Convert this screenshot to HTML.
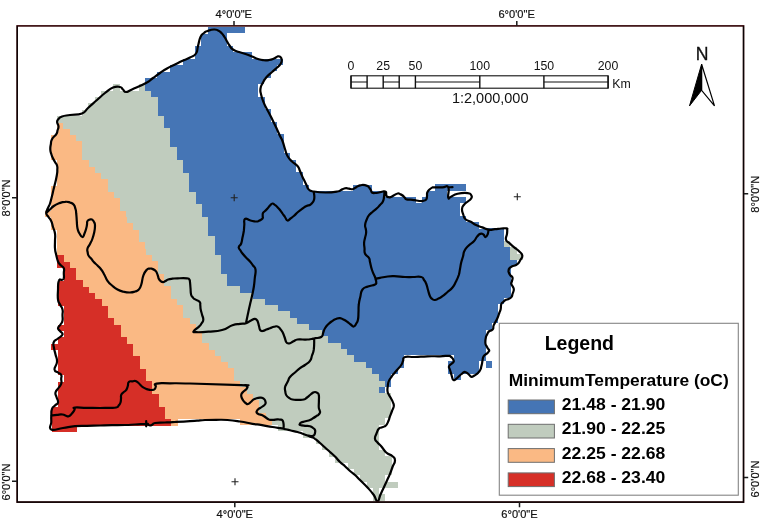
<!DOCTYPE html>
<html lang="en">
<head>
<meta charset="utf-8">
<title>Minimum Temperature Map</title>
<style>
html,body{margin:0;padding:0;background:#fff;}
body{width:761px;height:526px;overflow:hidden;}
svg{display:block;}
text{font-family:"Liberation Sans",Arial,Helvetica,sans-serif;fill:#111;}
.gl{font-size:11.1px;stroke:#111;stroke-width:0.2px;}
.sb{font-size:12.3px;}
.lg{font-weight:bold;font-size:16px;fill:#000;}
</style>
</head>
<body>
<svg width="761" height="526" viewBox="0 0 761 526">
<rect x="0" y="0" width="761" height="526" fill="#fff"/>
<g shape-rendering="crispEdges">
<path fill="#4575b5" d="M208 27H245V33H208ZM208 33H227V34H208ZM201 34H227V46H201ZM195 46H233V52H195ZM195 52H252V59H195ZM183 59H283V65H183ZM170 65H277V71H170ZM170 71H271V72H170ZM157 72H271V78H157ZM145 78H264V84H145ZM145 84H258V91H145ZM151 91H258V97H151ZM158 97H265V103H158ZM158 103H265V109H158ZM158 109H271V110H158ZM158 110H271V116H158ZM164 116H271V122H164ZM164 122H277V123H164ZM164 123H277V128H164ZM170 128H277V129H170ZM170 129H277V134H170ZM170 134H284V135H170ZM170 135H284V141H170ZM170 141H284V147H170ZM177 147H284V153H177ZM177 153H290V160H177ZM183 160H296V167H183ZM183 167H296V172H183ZM183 172H303V173H183ZM189 173H303V179H189ZM189 179H303V184H189ZM189 184H303V185H189ZM435 184H466V185H435ZM189 185H309V186H189ZM353 185H372V186H353ZM435 185H466V186H435ZM189 186H309V191H189ZM353 186H372V191H353ZM435 186H466V191H435ZM189 191H384V192H189ZM428 191H447V192H428ZM196 192H384V197H196ZM428 192H447V197H428ZM196 197H416V198H196ZM422 197H466V198H422ZM196 198H416V203H196ZM422 198H466V203H422ZM196 203H460V204H196ZM202 204H460V211H202ZM202 211H460V216H202ZM202 216H466V217H202ZM208 217H466V222H208ZM208 222H479V223H208ZM208 223H479V228H208ZM208 228H479V229H208ZM485 228H504V229H485ZM208 229H504V230H208ZM208 230H504V236H208ZM215 236H504V241H215ZM215 241H504V242H215ZM215 242H504V247H215ZM215 247H510V249H215ZM215 249H510V254H215ZM215 254H510V255H215ZM221 255H510V260H221ZM221 260H517V261H221ZM221 261H517V262H221ZM221 262H517V266H221ZM221 266H511V268H221ZM221 268H511V274H221ZM227 274H511V280H227ZM227 280H511V281H227ZM227 281H511V286H227ZM240 286H511V287H240ZM240 287H511V293H240ZM253 293H511V298H253ZM253 298H504V299H253ZM265 299H504V304H265ZM265 304H498V305H265ZM278 305H498V306H278ZM278 306H498V311H278ZM290 311H498V318H290ZM297 318H498V323H297ZM297 323H492V324H297ZM309 324H492V325H309ZM309 325H492V330H309ZM322 330H486V331H322ZM322 331H486V336H322ZM328 336H486V337H328ZM328 337H486V343H328ZM341 343H486V344H341ZM341 344H486V349H341ZM347 349H486V350H347ZM347 350H486V355H347ZM354 355H404V356H354ZM454 355H486V356H454ZM354 356H404V361H354ZM454 356H486V361H454ZM354 361H404V362H354ZM448 361H479V362H448ZM486 361H492V362H486ZM366 362H404V368H366ZM448 362H479V368H448ZM486 362H492V368H486ZM372 368H398V369H372ZM448 368H479V369H448ZM372 369H398V374H372ZM448 369H479V374H448ZM379 374H391V375H379ZM454 374H461V375H454ZM379 375H391V380H379ZM454 375H461V380H454ZM379 380H391V381H379ZM385 381H391V382H385ZM385 382H391V387H385ZM379 387H385V393H379Z"/>
<path fill="#c0ccbe" d="M113 84H120V91H113ZM139 84H145V91H139ZM101 91H151V97H101ZM95 97H158V103H95ZM88 103H158V109H88ZM88 109H158V110H88ZM82 110H158V116H82ZM57 116H164V122H57ZM57 122H164V123H57ZM63 123H164V128H63ZM63 128H170V129H63ZM70 129H170V134H70ZM70 134H170V135H70ZM76 135H170V141H76ZM82 141H170V147H82ZM82 147H177V153H82ZM82 153H177V160H82ZM89 160H183V167H89ZM95 167H183V172H95ZM95 172H183V173H95ZM101 173H189V179H101ZM108 179H189V184H108ZM108 184H189V185H108ZM108 185H189V186H108ZM108 186H189V191H108ZM108 191H189V192H108ZM114 192H196V197H114ZM114 197H196V198H114ZM120 198H196V203H120ZM120 203H196V204H120ZM120 204H202V211H120ZM126 211H202V216H126ZM126 216H202V217H126ZM127 217H208V222H127ZM127 222H208V223H127ZM133 223H208V228H133ZM133 228H208V229H133ZM133 229H208V230H133ZM139 230H208V236H139ZM139 236H215V241H139ZM139 241H215V242H139ZM504 241H510V242H504ZM145 242H215V247H145ZM504 242H510V247H504ZM145 247H215V249H145ZM510 247H517V249H510ZM146 249H215V254H146ZM510 249H517V254H510ZM146 254H215V255H146ZM510 254H523V255H510ZM152 255H221V260H152ZM510 255H523V260H510ZM152 260H221V261H152ZM158 261H221V262H158ZM158 262H221V266H158ZM158 266H221V268H158ZM158 268H221V274H158ZM164 274H227V280H164ZM164 280H227V281H164ZM164 281H227V286H164ZM171 286H240V287H171ZM171 287H240V293H171ZM171 293H253V298H171ZM171 298H253V299H171ZM177 299H265V304H177ZM177 304H265V305H177ZM183 305H278V306H183ZM183 306H278V311H183ZM183 311H290V318H183ZM190 318H297V323H190ZM190 323H297V324H190ZM196 324H309V325H196ZM196 325H309V330H196ZM196 330H322V331H196ZM202 331H322V336H202ZM202 336H328V337H202ZM202 337H328V343H202ZM209 343H341V344H209ZM209 344H341V349H209ZM209 349H347V350H209ZM215 350H347V355H215ZM215 355H354V356H215ZM221 356H354V361H221ZM221 361H354V362H221ZM228 362H366V368H228ZM234 368H372V369H234ZM234 369H372V374H234ZM234 374H379V375H234ZM234 375H379V380H234ZM234 380H379V381H234ZM240 381H385V382H240ZM240 382H385V387H240ZM247 387H379V393H247ZM247 393H391V394H247ZM253 394H391V400H253ZM259 400H391V407H259ZM259 407H391V413H259ZM266 413H391V418H266ZM266 418H385V419H266ZM272 419H385V425H272ZM278 425H379V426H278ZM278 426H379V431H278ZM303 431H379V432H303ZM303 432H379V438H303ZM316 438H379V444H316ZM322 444H379V450H322ZM329 450H385V456H329ZM329 456H392V457H329ZM335 457H392V463H335ZM348 463H392V469H348ZM354 469H392V475H354ZM360 475H385V482H360ZM367 482H398V488H367ZM373 488H379V494H373ZM373 494H385V501H373Z"/>
<path fill="#fab984" d="M57 123H63V128H57ZM57 128H63V129H57ZM57 129H70V134H57ZM57 134H70V135H57ZM51 135H76V141H51ZM51 141H82V147H51ZM51 147H82V153H51ZM51 153H82V160H51ZM57 160H89V167H57ZM57 167H95V172H57ZM57 172H95V173H57ZM57 173H101V179H57ZM57 179H108V184H57ZM57 184H108V185H57ZM57 185H108V186H57ZM51 186H108V191H51ZM51 191H108V192H51ZM51 192H114V197H51ZM51 197H114V198H51ZM51 198H120V203H51ZM51 203H120V204H51ZM51 204H120V211H51ZM45 211H126V216H45ZM45 216H126V217H45ZM51 217H127V222H51ZM51 222H127V223H51ZM51 223H133V228H51ZM51 228H133V229H51ZM51 229H133V230H51ZM57 230H139V236H57ZM57 236H139V241H57ZM57 241H139V242H57ZM57 242H145V247H57ZM57 247H145V249H57ZM57 249H146V254H57ZM57 254H146V255H57ZM64 255H152V260H64ZM64 260H152V261H64ZM64 261H158V262H64ZM70 262H158V266H70ZM70 266H158V268H70ZM76 268H158V274H76ZM76 274H164V280H76ZM83 280H164V281H83ZM83 281H164V286H83ZM83 286H171V287H83ZM89 287H171V293H89ZM95 293H171V298H95ZM95 298H171V299H95ZM102 299H177V304H102ZM102 304H177V305H102ZM102 305H183V306H102ZM108 306H183V311H108ZM108 311H183V318H108ZM114 318H190V323H114ZM114 323H190V324H114ZM114 324H196V325H114ZM121 325H196V330H121ZM121 330H196V331H121ZM121 331H202V336H121ZM121 336H202V337H121ZM127 337H202V343H127ZM127 343H209V344H127ZM133 344H209V349H133ZM133 349H209V350H133ZM133 350H215V355H133ZM133 355H215V356H133ZM140 356H221V361H140ZM140 361H221V362H140ZM140 362H228V368H140ZM140 368H234V369H140ZM146 369H234V374H146ZM146 374H234V375H146ZM146 375H234V380H146ZM146 380H234V381H146ZM152 381H240V382H152ZM152 382H240V387H152ZM152 387H247V393H152ZM152 393H247V394H152ZM159 394H253V400H159ZM159 400H259V407H159ZM165 407H259V413H165ZM165 413H266V418H165ZM165 418H266V419H165ZM171 419H178V425H171ZM240 419H272V425H240ZM171 425H178V426H171Z"/>
<path fill="#d62f27" d="M57 255H64V260H57ZM57 260H64V261H57ZM57 261H64V262H57ZM57 262H70V266H57ZM57 266H70V268H57ZM64 268H76V274H64ZM64 274H76V280H64ZM64 280H83V281H64ZM58 281H83V286H58ZM58 286H83V287H58ZM58 287H89V293H58ZM58 293H95V298H58ZM58 298H95V299H58ZM58 299H102V304H58ZM58 304H102V305H58ZM58 305H102V306H58ZM64 306H108V311H64ZM64 311H108V318H64ZM64 318H114V323H64ZM64 323H114V324H64ZM64 324H114V325H64ZM58 325H121V330H58ZM58 330H121V331H58ZM64 331H121V336H64ZM64 336H121V337H64ZM58 337H127V343H58ZM58 343H127V344H58ZM51 344H133V349H51ZM51 349H133V350H51ZM58 350H133V355H58ZM58 355H133V356H58ZM58 356H140V361H58ZM58 361H140V362H58ZM58 362H140V368H58ZM58 368H140V369H58ZM58 369H146V374H58ZM58 374H146V375H58ZM64 375H146V380H64ZM64 380H146V381H64ZM64 381H152V382H64ZM58 382H152V387H58ZM58 387H152V393H58ZM58 393H152V394H58ZM58 394H159V400H58ZM58 400H159V407H58ZM52 407H165V413H52ZM52 413H165V418H52ZM52 418H165V419H52ZM52 419H171V425H52ZM52 425H171V426H52ZM52 426H77V431H52ZM52 431H77V432H52Z"/>
</g>
<path d="M57.1 122.1C57.1 120.1 57.2 120.5 58.5 119.0C59.8 117.5 58.9 117.6 62.0 116.5C65.1 115.4 64.7 115.8 70.0 115.0C75.3 114.2 77.2 115.4 82.0 113.5C86.8 111.6 84.0 111.6 88.0 108.0C92.0 104.4 92.5 104.0 97.0 100.0C101.5 96.0 100.7 96.3 105.0 93.0C109.3 89.7 109.0 89.1 113.0 87.5C117.0 85.9 117.3 86.5 120.0 87.0C122.7 87.5 121.4 88.2 123.0 89.5C124.6 90.8 123.6 92.0 126.0 92.0C128.4 92.0 126.7 91.9 132.0 89.5C137.3 87.1 140.4 86.1 146.0 83.0C151.6 79.9 149.3 80.7 153.0 78.0C156.7 75.3 156.3 75.5 160.0 73.0C163.7 70.5 163.0 70.8 167.0 68.5C171.0 66.2 171.0 66.5 175.0 64.5C179.0 62.5 178.0 62.9 182.0 61.0C186.0 59.1 186.3 59.5 190.0 57.5C193.7 55.5 193.9 56.6 196.0 53.5C198.1 50.4 196.8 50.4 198.0 46.0C199.2 41.6 198.9 40.5 200.5 37.0C202.1 33.5 202.1 34.6 204.0 33.0C205.9 31.4 204.8 31.9 207.5 31.0C210.2 30.1 211.2 29.6 214.0 29.5C216.8 29.4 216.0 29.6 218.0 30.5C220.0 31.4 219.8 31.3 221.5 33.0C223.2 34.7 223.2 35.0 224.5 37.0C225.8 39.0 225.2 38.2 226.5 40.5C227.8 42.8 227.8 43.1 229.5 45.5C231.2 47.9 230.5 47.8 233.0 49.5C235.5 51.2 235.7 50.8 239.0 52.0C242.3 53.2 242.0 52.8 245.5 54.0C249.0 55.2 248.7 55.2 252.0 56.5C255.3 57.8 254.9 58.0 258.0 59.0C261.1 60.0 260.6 59.9 263.5 60.2C266.4 60.5 266.2 60.5 269.0 60.0C271.8 59.5 271.7 59.4 274.0 58.5C276.3 57.6 275.8 57.0 277.5 56.5C279.2 56.0 279.2 55.9 280.3 56.8C281.4 57.7 281.7 58.1 281.8 60.0C281.9 61.9 281.7 62.0 280.5 64.0C279.3 66.0 279.5 65.4 277.2 67.5C274.9 69.6 274.8 69.5 272.0 72.0C269.2 74.5 269.0 74.2 266.6 77.0C264.2 79.8 264.6 79.4 263.0 82.5C261.4 85.6 261.0 85.2 260.5 88.5C260.0 91.8 260.4 91.4 261.2 95.0C262.0 98.6 262.2 98.7 263.5 102.0C264.8 105.3 264.5 104.6 266.0 107.5C267.5 110.4 267.1 109.4 269.0 113.0C270.9 116.6 270.8 116.5 273.0 121.0C275.2 125.5 275.4 126.0 277.3 130.0C279.2 134.0 278.6 133.1 280.0 136.0C281.4 138.9 281.2 137.5 282.5 141.0C283.8 144.5 283.7 145.0 285.0 149.0C286.3 153.0 285.6 152.7 287.5 156.0C289.4 159.3 289.3 158.8 292.0 161.5C294.7 164.2 295.4 163.5 297.5 166.0C299.6 168.5 298.7 168.1 300.0 171.0C301.3 173.9 301.5 174.7 302.5 177.0C303.5 179.3 302.7 177.5 303.8 179.6C304.9 181.7 305.2 182.4 306.5 185.0C307.8 187.6 306.9 187.8 308.8 189.5C310.7 191.2 309.2 190.7 313.7 191.5C318.2 192.3 319.3 192.5 325.6 192.5C331.9 192.5 333.3 192.2 337.4 191.5C341.5 190.8 339.2 190.8 341.0 190.0C342.8 189.2 342.6 189.0 344.3 188.5C346.0 188.0 345.6 188.2 347.3 188.3C349.0 188.4 348.9 188.8 350.5 189.0C352.1 189.2 351.6 189.5 353.2 189.0C354.8 188.5 354.9 187.9 356.5 187.0C358.1 186.1 357.7 186.1 359.2 185.6C360.7 185.1 360.4 185.1 362.0 185.0C363.6 184.9 363.6 184.9 365.1 185.2C366.6 185.5 366.4 185.4 367.5 186.0C368.6 186.6 368.2 186.4 369.1 187.5C370.0 188.6 370.0 188.7 370.8 190.0C371.6 191.3 370.9 191.7 372.0 192.5C373.1 193.3 373.2 193.0 375.0 193.0C376.8 193.0 376.8 192.9 378.9 192.5C381.0 192.1 381.1 191.7 382.9 191.5C384.7 191.3 384.9 191.1 385.8 191.9C386.7 192.7 385.9 193.3 386.2 194.5C386.5 195.7 386.1 195.7 386.8 196.4C387.5 197.1 387.7 197.0 388.8 197.2C389.9 197.4 389.4 197.5 390.8 197.0C392.2 196.5 392.2 196.2 394.0 195.3C395.8 194.4 396.0 193.8 397.7 193.5C399.4 193.2 398.9 193.7 400.2 194.2C401.5 194.7 401.4 194.6 402.6 195.5C403.8 196.4 403.7 196.6 404.8 197.6C405.9 198.6 404.5 198.8 406.6 199.4C408.7 200.0 409.9 199.5 412.5 199.8C415.1 200.1 414.4 200.2 416.5 200.5C418.6 200.8 418.5 200.9 420.4 201.0C422.3 201.1 421.9 201.1 423.5 200.7C425.1 200.3 425.4 200.7 426.3 199.4C427.2 198.1 426.7 197.8 427.0 196.0C427.3 194.2 426.6 194.2 427.3 192.5C428.0 190.8 428.2 190.8 429.5 189.5C430.8 188.2 431.1 188.1 432.3 187.5C433.5 186.9 431.3 187.5 434.0 187.4C436.7 187.3 438.7 187.3 442.5 187.3C446.3 187.3 446.8 184.6 448.3 187.3C449.8 190.0 447.5 195.0 448.2 197.5C448.9 200.0 448.5 197.7 451.0 196.7C453.5 195.7 453.1 194.8 457.6 193.8C462.1 192.8 464.0 192.7 467.7 193.1C471.4 193.5 470.3 193.9 471.3 195.3C472.3 196.7 472.1 196.7 471.3 198.2C470.5 199.7 470.3 199.3 468.4 201.0C466.5 202.7 465.7 202.6 464.0 204.7C462.3 206.8 462.2 206.3 462.0 209.0C461.8 211.7 462.5 212.3 463.4 215.0C464.3 217.7 463.5 217.4 465.5 219.2C467.5 221.0 468.0 220.3 470.8 221.8C473.6 223.3 472.9 223.5 476.0 225.0C479.1 226.5 478.9 226.1 482.3 227.4C485.7 228.7 485.2 229.2 488.6 229.7C492.0 230.2 491.6 229.5 495.0 229.2C498.4 228.9 498.2 228.7 501.3 228.5C504.4 228.3 504.9 228.0 506.5 228.4C508.1 228.8 507.1 228.5 507.2 230.0C507.3 231.5 507.3 231.3 507.0 233.9C506.7 236.5 505.3 237.2 506.0 239.7C506.7 242.2 507.6 241.4 509.7 243.4C511.8 245.4 511.4 245.0 513.9 247.1C516.4 249.2 516.9 249.1 519.1 251.3C521.3 253.5 522.0 253.1 522.3 255.5C522.6 257.9 521.6 257.8 520.2 260.2C518.8 262.6 519.2 262.7 517.0 264.4C514.8 266.1 513.9 265.4 511.8 266.5C509.7 267.6 510.2 267.4 509.3 268.5C508.4 269.6 508.7 269.4 508.6 270.5C508.5 271.6 508.2 271.2 508.8 272.5C509.3 273.8 509.5 274.2 510.5 275.5C511.5 276.8 512.1 276.0 512.5 277.5C512.9 279.0 512.3 279.3 512.0 281.0C511.7 282.7 511.0 282.1 511.2 283.8C511.5 285.4 512.3 285.3 513.0 287.0C513.7 288.7 513.9 288.1 513.8 290.0C513.6 291.9 513.1 292.1 512.5 294.0C511.9 295.9 512.5 295.8 511.4 297.1C510.3 298.4 510.1 298.2 508.5 299.0C506.9 299.8 506.9 299.2 505.5 300.0C504.1 300.8 504.3 300.9 503.2 302.0C502.1 303.1 502.0 302.4 501.3 304.2C500.6 306.0 501.2 306.6 500.7 308.9C500.2 311.2 500.1 310.8 499.3 313.0C498.5 315.2 498.8 314.9 497.8 317.2C496.8 319.5 496.8 319.3 495.7 321.5C494.6 323.7 494.3 323.5 493.6 325.5C492.9 327.5 493.7 327.7 493.0 329.0C492.3 330.3 492.1 329.9 491.0 330.5C489.9 331.1 489.9 330.4 488.9 331.4C487.9 332.4 488.0 332.7 487.2 334.3C486.4 335.9 486.4 334.9 485.9 337.3C485.4 339.7 485.2 340.9 485.4 343.2C485.6 345.5 485.9 344.7 486.5 346.0C487.1 347.3 487.0 347.0 487.7 348.2C488.4 349.4 489.0 349.5 489.2 350.5C489.4 351.5 488.9 351.1 488.3 352.0C487.7 352.9 488.1 352.6 486.8 353.7C485.5 354.8 484.7 354.6 483.6 356.3C482.5 358.0 483.0 358.2 482.6 360.0C482.2 361.8 482.4 361.4 482.1 363.1C481.8 364.8 481.7 364.8 481.3 366.5C480.9 368.2 481.1 368.0 480.5 369.4C479.9 370.8 479.9 370.7 479.0 371.8C478.1 372.9 478.5 372.6 477.3 373.6C476.1 374.6 476.0 374.6 474.5 375.5C473.0 376.4 472.9 376.9 471.5 376.8C470.1 376.7 470.4 376.0 469.3 375.0C468.2 374.0 468.2 373.8 467.3 373.1C466.4 372.4 466.6 372.6 465.8 372.3C465.0 372.0 465.3 371.6 464.2 372.1C463.1 372.6 462.9 372.9 461.5 374.0C460.1 375.1 460.2 375.2 458.9 376.3C457.6 377.4 457.9 377.3 456.8 378.3C455.7 379.3 455.6 379.6 454.7 380.0C453.8 380.4 454.0 380.1 453.4 379.8C452.8 379.5 453.1 380.2 452.6 378.9C452.1 377.6 452.1 377.0 451.5 375.0C450.9 373.0 451.0 373.1 450.5 371.5C450.0 369.9 450.1 370.3 449.7 369.0C449.3 367.7 448.8 367.9 448.9 366.8C449.0 365.7 449.3 365.8 450.0 365.0C450.7 364.2 450.6 364.6 451.6 363.7C452.6 362.8 453.3 362.7 453.7 361.6C454.1 360.5 453.6 360.5 453.2 359.5C452.8 358.5 452.8 358.7 452.1 357.9C451.4 357.1 451.5 357.1 450.5 356.5C449.5 355.9 451.2 355.9 448.4 355.8C445.6 355.7 445.6 356.2 440.0 356.3C434.4 356.4 434.2 356.1 427.5 356.3C420.8 356.5 421.0 356.8 415.0 357.0C409.0 357.2 408.2 355.9 405.0 357.0C401.8 358.1 404.0 358.9 403.0 361.0C402.0 363.1 402.7 362.7 401.2 365.0C399.8 367.3 399.5 367.2 397.5 369.5C395.5 371.8 395.5 371.6 393.8 373.8C392.0 375.9 392.3 375.5 391.0 377.5C389.7 379.5 389.6 379.0 388.8 381.2C387.9 383.5 388.1 383.3 387.8 386.0C387.5 388.7 387.2 388.9 387.5 391.2C387.8 393.6 388.0 393.0 389.0 395.0C390.0 397.0 390.2 396.8 391.2 398.8C392.3 400.8 392.3 400.5 393.0 402.5C393.7 404.5 394.0 404.0 393.8 406.2C393.5 408.5 393.0 408.3 392.0 411.0C391.0 413.7 390.9 413.9 390.0 416.2C389.1 418.6 389.6 417.9 388.8 420.0C387.9 422.1 388.0 422.3 387.0 424.0C386.0 425.7 386.5 425.3 385.0 426.2C383.5 427.2 383.2 426.8 381.5 427.5C379.8 428.2 380.1 427.1 378.8 428.8C377.4 430.4 377.5 430.8 376.5 433.5C375.5 436.2 374.7 436.4 375.0 438.8C375.3 441.1 375.8 440.5 377.5 442.5C379.2 444.5 378.9 443.6 381.2 446.2C383.6 448.9 383.2 449.8 386.2 452.5C389.2 455.2 390.2 454.1 392.5 456.2C394.8 458.4 395.0 457.6 395.0 460.5C395.0 463.4 393.8 463.5 392.5 467.0C391.2 470.5 391.5 470.1 390.0 473.8C388.5 477.4 388.7 476.8 387.0 480.5C385.3 484.2 385.5 483.8 383.8 487.5C382.0 491.2 382.2 490.8 380.5 494.5C378.8 498.2 379.3 501.1 377.5 501.2C375.7 501.4 376.4 498.7 373.8 495.0C371.1 491.3 371.2 491.5 367.5 487.5C363.8 483.5 363.3 483.3 360.0 480.0C356.7 476.7 357.7 477.4 355.0 475.0C352.3 472.6 352.7 473.3 350.0 471.0C347.3 468.7 347.7 468.6 345.0 466.2C342.3 463.9 342.7 464.6 340.0 462.0C337.3 459.4 337.7 459.2 335.0 456.5C332.3 453.8 332.7 454.4 330.0 452.0C327.3 449.6 327.7 449.9 325.0 447.5C322.3 445.1 322.7 445.3 320.0 443.0C317.3 440.7 317.4 440.4 315.0 438.8C312.6 437.1 313.0 437.9 311.0 437.0C309.0 436.1 309.9 436.4 307.5 435.5C305.1 434.6 304.7 434.4 302.0 433.5C299.3 432.6 300.7 432.9 297.5 432.0C294.3 431.1 293.7 431.2 290.0 430.3C286.3 429.4 286.9 429.4 283.8 428.8C280.6 428.1 281.0 428.3 278.0 427.8C275.0 427.3 276.8 427.7 272.5 427.0C268.2 426.3 267.3 426.1 262.0 425.2C256.7 424.3 258.4 424.7 252.5 423.8C246.6 422.8 246.7 422.5 240.0 421.5C233.3 420.5 233.9 420.5 227.5 420.0C221.1 419.5 222.0 419.8 216.0 419.8C210.0 419.8 210.1 419.8 205.0 420.0C199.9 420.2 201.0 420.4 197.0 420.7C193.0 421.0 195.9 420.9 190.0 421.2C184.1 421.6 181.7 421.7 175.0 422.0C168.3 422.3 170.3 422.2 165.0 422.5C159.7 422.8 158.3 422.5 155.0 423.0C151.7 423.5 153.8 423.8 152.5 424.5C151.2 425.2 151.2 425.5 150.0 425.5C148.8 425.5 149.0 425.0 148.0 424.5C147.0 424.0 149.7 423.8 146.2 423.8C142.8 423.8 140.7 424.2 135.0 424.5C129.3 424.8 131.1 424.8 125.0 425.0C118.9 425.2 118.7 425.1 112.0 425.2C105.3 425.3 106.7 425.3 100.0 425.5C93.3 425.7 93.7 425.6 87.0 425.8C80.3 426.0 81.4 425.7 75.0 426.2C68.6 426.8 69.3 427.1 63.0 428.0C56.7 428.9 54.4 431.1 51.2 429.5C48.1 427.9 51.3 425.7 51.3 422.0C51.3 418.3 51.1 419.0 51.3 415.5C51.5 412.0 51.0 411.4 52.0 408.8C53.0 406.1 53.4 407.2 55.0 405.5C56.6 403.8 57.6 404.8 58.0 402.5C58.4 400.2 57.2 399.7 56.5 397.0C55.8 394.3 55.0 394.9 55.5 392.5C56.0 390.1 57.0 390.3 58.5 388.0C60.0 385.7 60.5 386.1 61.2 383.8C62.0 381.4 61.2 381.3 61.2 379.0C61.2 376.7 62.1 376.7 61.2 375.0C60.4 373.3 59.8 374.0 58.0 372.5C56.2 371.0 54.8 372.3 54.5 369.5C54.2 366.7 56.7 366.0 57.0 362.0C57.3 358.0 56.3 358.2 55.5 354.5C54.7 350.8 54.5 351.3 54.0 348.0C53.5 344.7 52.7 344.5 53.8 342.0C54.8 339.5 55.7 340.5 58.0 338.5C60.3 336.5 62.0 336.5 62.5 334.5C63.0 332.5 61.2 332.7 60.0 331.0C58.8 329.3 57.9 330.0 58.0 328.2C58.1 326.5 59.3 326.5 60.5 324.5C61.7 322.5 62.0 323.3 62.5 320.8C63.0 318.2 62.5 318.0 62.5 315.0C62.5 312.0 63.2 312.3 62.5 309.5C61.8 306.7 61.2 307.2 60.0 304.5C58.8 301.8 58.5 303.4 58.0 299.5C57.5 295.6 57.8 295.0 58.0 290.0C58.2 285.0 57.7 283.5 58.8 280.8C59.8 278.0 60.7 280.5 62.0 279.8C63.3 279.1 63.3 280.1 63.8 278.2C64.2 276.4 63.8 275.7 63.8 273.0C63.8 270.3 64.6 270.4 63.8 268.2C62.9 266.1 62.0 266.8 60.5 265.0C59.0 263.2 59.2 264.4 58.0 261.5C56.8 258.6 56.8 257.5 56.0 254.0C55.2 250.5 55.3 252.0 55.0 248.5C54.7 245.0 55.0 245.0 55.0 241.0C55.0 237.0 55.5 237.2 55.0 233.5C54.5 229.8 54.0 230.3 53.0 227.0C52.0 223.7 52.5 223.7 51.2 221.0C50.0 218.3 49.8 219.1 48.5 217.0C47.2 214.9 46.4 215.4 46.2 213.0C46.1 210.6 47.0 210.5 48.0 208.0C49.0 205.5 48.9 206.7 50.0 203.5C51.1 200.3 51.0 199.9 52.0 196.0C53.0 192.1 52.8 192.5 53.7 188.8C54.6 185.1 54.7 184.9 55.4 182.0C56.1 179.1 55.8 180.3 56.3 178.0C56.8 175.7 56.8 175.5 57.1 173.4C57.4 171.3 57.3 172.1 57.3 170.0C57.3 167.9 57.7 167.8 57.1 165.7C56.5 163.6 56.1 164.1 55.0 162.0C53.9 159.9 53.8 160.1 52.8 158.0C51.8 155.9 52.0 156.3 51.3 154.0C50.6 151.7 50.4 152.0 50.3 149.5C50.2 147.0 50.3 147.2 50.8 144.5C51.3 141.8 50.5 142.0 52.0 139.2C53.5 136.4 54.8 136.4 56.3 134.1C57.8 131.8 56.9 132.6 57.5 130.5C58.1 128.4 58.6 128.6 58.5 126.4C58.4 124.2 57.1 124.1 57.1 122.1ZM448.3 187.3C449.4 187.3 451.4 187.2 452.5 187.2M46.2 213.0C47.2 212.1 48.0 211.4 50.0 209.5C52.0 207.6 51.4 207.7 53.8 206.0C56.1 204.3 56.0 204.4 59.0 203.3C62.0 202.2 62.1 202.0 65.0 201.8C67.9 201.5 67.7 201.7 70.0 202.5C72.3 203.3 72.3 203.0 73.8 204.8C75.2 206.5 74.8 206.7 75.5 209.0C76.2 211.3 75.9 210.3 76.2 213.5C76.6 216.7 76.5 217.0 76.8 221.0C77.1 225.0 76.8 225.2 77.5 228.5C78.2 231.8 78.2 231.2 79.5 233.5C80.8 235.8 81.2 237.2 82.5 237.2C83.8 237.2 83.5 235.8 84.5 233.5C85.5 231.2 85.6 230.9 86.2 228.5C86.9 226.1 86.7 226.5 87.0 224.5C87.3 222.5 86.7 222.3 87.5 221.0C88.3 219.7 88.7 219.8 90.0 219.5C91.3 219.2 91.4 218.9 92.5 219.8C93.6 220.6 93.6 220.8 94.3 222.5C95.0 224.2 95.0 223.5 95.0 226.0C95.0 228.5 95.0 228.7 94.3 232.0C93.6 235.3 93.6 235.3 92.5 238.5C91.4 241.7 91.3 241.3 90.0 244.0C88.7 246.7 88.1 246.2 87.5 248.5C86.9 250.8 87.4 250.5 87.7 252.5C88.0 254.5 87.7 254.3 88.8 256.0C89.8 257.7 90.2 257.4 91.5 259.0C92.8 260.6 92.2 260.3 93.8 262.0C95.3 263.7 95.5 263.5 97.5 265.5C99.5 267.5 99.4 267.0 101.2 269.5C103.1 272.0 102.8 272.0 104.5 275.0C106.2 278.0 105.5 277.9 107.5 280.8C109.5 283.6 109.3 283.2 112.0 285.5C114.7 287.8 114.4 287.8 117.5 289.5C120.6 291.2 120.2 290.9 123.5 291.7C126.8 292.5 126.9 292.6 130.0 292.5C133.1 292.4 132.7 292.3 135.0 291.5C137.3 290.7 137.1 291.4 138.8 289.5C140.4 287.6 140.1 288.3 141.3 284.5C142.5 280.7 141.9 279.2 143.4 275.3C144.9 271.4 145.2 271.6 146.8 269.8C148.4 268.0 148.1 268.9 149.5 268.6C150.9 268.3 150.7 268.4 152.0 268.8C153.3 269.2 153.4 269.2 154.5 270.0C155.6 270.8 155.4 270.3 156.3 271.8C157.2 273.3 157.1 273.7 157.8 275.5C158.5 277.3 158.1 277.2 158.8 278.7C159.5 280.2 159.4 280.1 160.5 281.0C161.6 281.9 161.8 282.1 163.1 282.1C164.4 282.1 164.1 281.7 165.5 281.0C166.9 280.3 166.3 280.1 168.2 279.5C170.1 278.9 170.0 279.0 172.5 278.7C175.0 278.4 173.7 278.4 177.6 278.3C181.5 278.2 183.9 278.0 187.0 278.3C190.1 278.6 188.5 278.5 189.3 279.5C190.1 280.5 189.7 279.8 190.0 282.1C190.3 284.4 190.2 284.8 190.5 288.0C190.8 291.2 190.5 291.7 191.0 294.1C191.5 296.5 191.5 295.6 192.5 297.0C193.5 298.4 192.8 297.9 194.7 299.2C196.6 300.5 198.0 300.1 199.5 301.8C201.0 303.5 200.0 303.4 200.3 305.5C200.6 307.6 200.2 307.1 200.7 309.5C201.2 311.9 201.3 311.8 202.0 314.5C202.7 317.2 203.4 317.3 203.3 319.7C203.2 322.1 202.6 321.7 201.5 323.5C200.4 325.3 201.0 324.6 199.0 326.6C197.0 328.6 194.6 329.4 193.9 330.9C193.2 332.4 192.5 332.0 196.4 332.2C200.3 332.4 201.5 332.3 208.4 331.7C215.3 331.1 215.7 331.7 222.1 330.0C228.5 328.3 227.6 326.8 232.4 325.2C237.2 323.6 236.3 324.4 240.0 323.9C243.7 323.4 243.2 324.1 246.1 323.2C249.0 322.3 248.7 321.6 251.0 320.5C253.3 319.4 253.1 319.0 254.6 318.9C256.1 318.8 255.9 319.1 256.8 320.0C257.7 320.9 257.4 320.7 258.0 322.3C258.6 323.9 258.5 324.2 259.0 326.0C259.5 327.8 259.2 327.8 259.7 329.1C260.2 330.4 260.1 330.3 261.0 330.8C261.9 331.3 261.7 331.2 263.2 330.9C264.7 330.6 264.7 330.2 266.5 329.5C268.3 328.8 268.0 329.0 270.0 328.3C272.0 327.6 272.0 327.3 274.0 326.8C276.0 326.3 275.8 325.9 277.5 326.5C279.2 327.1 279.0 327.5 280.3 329.0C281.6 330.5 281.4 329.9 282.5 332.0C283.6 334.1 283.5 334.3 284.5 337.0C285.5 339.7 285.3 340.3 286.2 342.0C287.2 343.7 287.0 343.0 288.0 343.3C289.0 343.6 288.5 343.8 290.0 343.2C291.5 342.7 291.5 342.2 293.5 341.2C295.5 340.2 295.1 340.0 297.5 339.5C299.9 339.0 299.8 339.5 302.5 339.5C305.2 339.5 305.1 339.6 307.5 339.5C309.9 339.4 309.5 339.3 311.5 339.0C313.5 338.7 312.4 338.8 315.0 338.2C317.6 337.7 319.0 338.5 321.2 337.0C323.5 335.5 322.3 334.8 323.3 332.5C324.3 330.2 323.6 330.5 325.0 328.2C326.4 326.0 326.5 326.0 328.5 324.0C330.5 322.0 330.5 322.1 332.5 320.8C334.5 319.4 334.0 319.7 336.0 319.0C338.0 318.3 337.9 318.0 340.0 318.2C342.1 318.5 342.0 318.8 344.0 319.8C346.0 320.8 345.7 320.7 347.5 322.0C349.3 323.3 349.0 323.3 350.7 324.5C352.4 325.7 352.3 326.8 353.8 326.5C355.2 326.2 355.2 325.4 356.3 323.5C357.4 321.6 357.4 322.6 358.0 319.5C358.6 316.4 358.3 316.0 358.5 312.0C358.7 308.0 358.3 308.5 358.8 304.5C359.2 300.5 359.3 301.0 360.3 297.0C361.3 293.0 360.4 292.3 362.5 289.5C364.6 286.7 364.7 287.8 368.0 286.5C371.3 285.2 372.8 285.7 375.0 284.5C377.2 283.3 376.1 283.5 376.2 282.0C376.3 280.5 375.7 279.8 375.5 279.0M313.7 191.5C313.8 193.6 314.9 196.0 314.1 199.4C313.3 202.8 312.8 202.5 310.8 204.3C308.7 206.1 308.7 204.9 306.5 206.0C304.3 207.1 304.8 206.9 302.5 208.5C300.2 210.1 300.3 210.0 298.0 212.0C295.7 214.0 295.8 214.3 293.8 216.0C291.8 217.7 292.2 217.3 290.5 218.5C288.8 219.7 289.0 220.9 287.5 220.5C286.0 220.1 286.3 218.9 285.0 217.0C283.7 215.1 283.8 215.4 282.5 213.5C281.2 211.6 281.3 211.7 280.0 210.0C278.7 208.3 278.8 208.6 277.5 207.2C276.2 205.9 276.3 206.0 275.0 205.0C273.7 204.0 273.8 203.4 272.5 203.5C271.2 203.6 271.3 204.2 270.0 205.5C268.7 206.8 268.8 207.0 267.5 208.5C266.2 210.0 266.2 209.8 265.0 211.0C263.8 212.2 263.6 211.7 263.0 213.0C262.4 214.3 262.8 214.5 262.7 216.0C262.6 217.5 263.4 217.3 262.5 218.5C261.6 219.7 261.2 219.7 259.5 220.5C257.8 221.3 258.6 221.5 256.2 221.5C253.8 221.5 253.5 221.2 250.5 220.5C247.5 219.8 246.7 217.8 245.0 219.0C243.3 220.2 244.6 221.8 244.3 225.0C244.0 228.2 244.2 227.7 243.8 231.0C243.3 234.3 243.2 234.2 242.5 237.5C241.8 240.8 242.2 240.9 241.2 243.5C240.2 246.1 238.9 245.4 238.8 247.2C238.6 249.1 239.5 248.8 240.5 250.5C241.5 252.2 241.0 251.6 242.5 253.5C244.0 255.4 244.0 255.4 246.0 257.5C248.0 259.6 248.1 259.4 250.0 261.5C251.9 263.6 251.5 263.4 253.0 265.5C254.5 267.6 255.0 266.2 255.5 269.5C256.0 272.8 255.3 273.3 254.8 278.0C254.3 282.7 254.5 282.2 253.8 287.0C253.0 291.8 253.0 291.3 252.0 296.0C251.0 300.7 251.1 299.8 250.0 304.5C248.9 309.2 249.0 308.8 248.0 313.5C247.0 318.2 246.7 319.7 246.2 322.0M384.5 191.7C384.4 193.1 384.4 194.4 384.0 197.0C383.6 199.6 384.0 199.3 382.9 201.4C381.8 203.5 381.6 203.2 380.0 205.0C378.4 206.8 378.9 206.4 376.9 208.3C374.9 210.2 374.6 210.2 372.5 212.0C370.4 213.8 370.6 213.1 369.0 215.2C367.4 217.3 367.5 217.4 366.5 220.0C365.5 222.6 365.3 222.7 365.1 225.1C364.9 227.5 365.5 226.9 365.8 229.0C366.1 231.1 366.3 230.6 366.1 233.0C365.9 235.4 365.5 235.4 365.0 238.0C364.5 240.6 364.2 240.2 364.1 242.9C364.0 245.6 364.2 245.1 364.5 248.0C364.8 250.9 363.9 251.1 365.1 253.8C366.3 256.5 367.7 255.8 369.0 258.0C370.3 260.2 369.2 258.8 370.0 262.0C370.8 265.2 370.7 266.0 372.0 270.0C373.3 274.0 374.1 274.6 375.0 277.0C375.9 279.4 375.4 278.5 375.5 279.0M375.5 279.0C376.7 278.7 375.5 278.5 380.0 277.8C384.5 277.1 385.8 276.5 392.5 276.2C399.2 276.0 399.5 276.8 405.0 277.0C410.5 277.2 408.7 277.0 413.0 277.0C417.3 277.0 418.3 276.2 421.2 277.0C424.2 277.8 422.7 278.2 424.0 280.0C425.3 281.8 425.2 281.1 426.2 283.8C427.3 286.4 427.0 286.7 428.0 290.0C429.0 293.3 428.9 293.9 430.0 296.2C431.1 298.6 431.0 298.0 432.3 299.0C433.6 300.0 433.3 300.1 435.0 300.0C436.7 299.9 436.5 299.5 438.5 298.5C440.5 297.5 440.1 298.0 442.5 296.2C444.9 294.5 444.8 294.3 447.5 292.0C450.2 289.7 450.2 290.3 452.5 287.5C454.8 284.7 454.3 284.8 456.0 281.5C457.7 278.2 457.7 278.3 458.8 275.0C459.8 271.7 459.3 272.3 460.0 269.0C460.7 265.7 460.4 265.8 461.2 262.5C462.1 259.2 462.1 259.6 463.0 256.5C463.9 253.4 463.0 253.7 464.5 250.8C466.0 247.9 466.2 248.0 468.7 245.5C471.2 243.0 471.7 243.7 473.9 241.3C476.1 238.9 475.4 238.6 477.1 236.6C478.8 234.6 478.5 234.5 480.2 233.9C481.9 233.3 482.0 233.6 483.4 234.5C484.8 235.4 484.4 237.1 485.5 237.1C486.6 237.1 486.8 236.5 487.6 234.5C488.4 232.5 488.3 231.0 488.6 229.7M314.2 339.0C314.1 341.8 314.4 345.1 313.8 349.5C313.1 353.9 313.0 352.5 312.0 355.5C311.0 358.5 311.9 358.2 310.0 360.8C308.1 363.3 307.7 363.0 305.0 365.0C302.3 367.0 302.7 366.2 300.0 368.2C297.3 370.2 297.7 370.2 295.0 372.5C292.3 374.8 291.9 374.7 290.0 377.0C288.1 379.3 289.0 379.0 288.0 381.0C287.0 383.0 287.1 382.8 286.2 384.5C285.4 386.2 285.3 385.6 285.0 387.5C284.7 389.4 285.0 389.5 285.3 391.5C285.6 393.5 285.3 393.3 286.2 395.0C287.2 396.7 287.3 396.6 289.0 397.8C290.7 399.0 290.1 399.0 292.5 399.5C294.9 400.0 295.0 399.8 298.0 399.8C301.0 399.8 301.4 400.1 303.8 399.5C306.1 398.9 305.3 398.7 307.0 397.5C308.7 396.3 308.5 396.2 310.0 395.0C311.5 393.8 311.2 393.8 312.5 393.0C313.8 392.2 313.7 392.0 315.0 392.0C316.3 392.0 316.3 392.2 317.3 393.0C318.3 393.8 318.3 392.9 318.8 395.0C319.2 397.1 318.9 397.7 318.9 401.0C318.9 404.3 318.6 405.1 318.8 407.5C318.9 409.9 319.2 408.7 319.5 410.0C319.8 411.3 320.3 411.2 320.0 412.5C319.7 413.8 319.5 413.7 318.5 414.7C317.5 415.7 317.7 415.3 316.2 416.2C314.8 417.2 314.7 417.3 313.0 418.3C311.3 419.3 312.0 419.2 310.0 420.0C308.0 420.8 307.8 420.6 305.5 421.3C303.2 422.0 302.7 421.8 301.2 422.5C299.8 423.2 300.3 423.1 300.0 423.8C299.7 424.5 299.0 424.5 300.3 425.0C301.6 425.5 302.4 425.5 305.0 425.8C307.6 426.1 307.9 425.7 310.0 426.2C312.1 426.8 311.7 427.0 313.0 428.0C314.3 429.0 314.5 428.7 315.0 430.0C315.5 431.3 315.3 431.5 315.0 433.0C314.7 434.5 314.8 434.7 313.8 435.5C312.7 436.3 312.7 436.0 311.0 436.0C309.3 436.0 308.4 435.6 307.5 435.5M51.2 415.5C52.8 415.3 54.0 415.1 57.0 414.8C60.0 414.5 60.1 414.2 62.5 414.5C64.9 414.8 64.3 415.3 66.0 415.8C67.7 416.3 67.3 416.7 68.8 416.2C70.2 415.8 70.2 415.3 71.5 414.0C72.8 412.7 72.9 412.6 73.8 411.2C74.6 409.9 74.4 410.0 74.7 409.0C75.0 408.0 71.7 407.8 75.0 407.5C78.3 407.2 80.3 407.7 87.0 407.8C93.7 407.9 94.4 408.0 100.0 408.0C105.6 408.0 103.7 407.9 108.0 407.8C112.3 407.7 113.4 408.2 116.2 407.5C119.1 406.8 117.7 406.6 118.8 405.3C119.9 404.0 119.9 404.3 120.5 402.5C121.1 400.7 120.8 400.5 121.0 398.5C121.2 396.5 120.6 396.7 121.2 395.0C121.9 393.3 122.2 393.6 123.5 392.3C124.8 391.0 125.1 391.7 126.2 390.0C127.4 388.3 127.1 388.1 127.8 386.0C128.5 383.9 127.5 383.3 128.8 382.0C130.0 380.7 130.5 381.5 132.5 381.3C134.5 381.1 134.2 380.4 136.2 381.2C138.2 382.1 138.3 382.9 140.0 384.5C141.7 386.1 141.2 386.1 142.8 387.2C144.4 388.3 144.4 388.2 146.0 388.8C147.6 389.4 147.1 389.3 148.7 389.6C150.3 389.9 150.4 390.1 152.0 390.0C153.6 389.9 153.6 390.1 154.6 389.2C155.6 388.3 155.3 388.0 155.8 386.5C156.3 385.0 152.8 384.5 156.6 383.6C160.4 382.7 161.1 383.3 170.0 383.3C178.9 383.3 171.0 383.0 190.0 383.5C209.0 384.0 226.6 384.7 241.3 385.2C256.0 385.7 243.4 384.9 245.0 385.3C246.6 385.7 246.8 385.7 247.3 386.6C247.8 387.5 247.3 387.6 246.8 388.5C246.3 389.4 246.6 388.9 245.6 389.8C244.6 390.7 244.1 390.7 243.0 392.0C241.9 393.3 241.6 393.0 241.3 394.6C241.0 396.2 241.1 396.2 241.8 398.0C242.5 399.8 242.8 400.0 243.9 401.4C245.0 402.8 244.9 402.6 246.0 403.3C247.1 404.0 246.9 404.3 248.2 404.0C249.5 403.7 249.4 403.1 250.8 402.0C252.2 400.9 251.8 400.7 253.3 399.7C254.8 398.7 254.7 398.8 256.5 398.3C258.3 397.8 258.5 397.8 260.1 397.7C261.7 397.6 261.5 397.5 262.6 398.0C263.7 398.5 263.7 398.5 264.4 399.4C265.1 400.3 265.2 400.3 265.4 401.5C265.6 402.7 266.1 402.7 265.3 404.0C264.5 405.3 264.3 405.1 262.5 406.5C260.7 407.9 259.9 408.0 258.4 409.1C256.9 410.2 257.5 409.9 257.0 410.8C256.5 411.7 256.2 411.7 256.7 412.6C257.2 413.5 257.4 413.5 258.8 414.2C260.2 414.9 260.4 414.5 261.8 415.1C263.2 415.7 262.9 415.6 264.0 416.3C265.1 417.0 265.0 417.0 266.1 417.7C267.2 418.4 266.9 418.4 268.0 419.0C269.1 419.6 268.9 419.7 270.4 419.9C271.9 420.1 271.7 419.9 273.5 419.8C275.3 419.7 275.5 419.5 277.2 419.4C278.9 419.3 278.6 419.4 280.0 419.6C281.4 419.8 281.5 419.3 282.4 420.3C283.3 421.3 283.2 421.7 283.5 423.5C283.8 425.3 283.6 426.1 283.7 427.1M146.2 421.0C146.2 422.4 146.2 424.9 146.2 426.3" fill="none" stroke="#000" stroke-width="2.2" stroke-linejoin="round" stroke-linecap="round"/>
<!-- graticule crosses -->
<g stroke="#222" stroke-width="1.1" fill="none">
<path d="M230.7 197.7H237.7M234.2 194.2V201.2"/>
<path d="M513.8 196.8H520.8M517.3 193.3V200.3"/>
<path d="M231.5 481.7H238.5M235 478.2V485.2"/>
</g>
<!-- frame -->
<rect x="17.15" y="25.9" width="726.4" height="476.2" fill="none" stroke="#3d0f12" stroke-width="1.7"/>
<path d="M17.3 25.9V502.1H743.5V25.9" fill="none" stroke="#0a0404" stroke-width="1.15"/>
<g stroke="#1a1a1a" stroke-width="1.5" fill="none">
<path d="M234 21V25.8M516.8 21V25.8M234.8 502V507.2M519.5 502V507.2M12 197.8H17.3M12 481.3H17.3M744 193.7H748.2M744 477.4H748.2"/>
</g>
<!-- graticule labels -->
<text class="gl" x="233.8" y="18.3" text-anchor="middle">4°0'0"E</text>
<text class="gl" x="516.6" y="18.3" text-anchor="middle">6°0'0"E</text>
<text class="gl" x="234.8" y="517.9" text-anchor="middle">4°0'0"E</text>
<text class="gl" x="519.5" y="517.9" text-anchor="middle">6°0'0"E</text>
<text class="gl" transform="translate(9.5 197.9) rotate(-90)" text-anchor="middle">8°0'0"N</text>
<text class="gl" transform="translate(9.5 482) rotate(-90)" text-anchor="middle">6°0'0"N</text>
<text class="gl" transform="translate(759.2 194.2) rotate(-90)" text-anchor="middle">8°0'0"N</text>
<text class="gl" transform="translate(759.2 479) rotate(-90)" text-anchor="middle">6°0'0"N</text>
<!-- scale bar -->
<g stroke="#111" stroke-width="1.1" fill="none">
<rect x="351" y="75.8" width="257.1" height="12.4" fill="#fff"/>
<path stroke-width="1.4" d="M351 75.8V88.2M367.1 75.8V88.2M383.2 75.8V88.2M399.2 75.8V88.2M415.4 75.8V88.2M479.8 75.8V88.2M543.9 75.8V88.2M608.1 75.8V88.2"/>
<path d="M351 82H367.1M383.2 82H399.2M415.4 82H479.8M543.9 82H608.1"/>
</g>
<g class="sb" text-anchor="middle">
<text class="sb" x="351" y="70">0</text>
<text class="sb" x="383.2" y="70">25</text>
<text class="sb" x="415.4" y="70">50</text>
<text class="sb" x="479.8" y="70">100</text>
<text class="sb" x="543.9" y="70">150</text>
<text class="sb" x="608" y="70">200</text>
</g>
<text class="sb" x="612.3" y="87.5">Km</text>
<text x="490.2" y="102.5" text-anchor="middle" style="font-size:14.5px">1:2,000,000</text>
<!-- north arrow -->
<text x="702.1" y="59.6" text-anchor="middle" style="font-size:17.6px;stroke:#111;stroke-width:0.3px">N</text>
<path d="M701.6 64.2L714.5 105.9L701.6 90.3Z" fill="#fff" stroke="#000" stroke-width="1.2"/>
<path d="M701.6 64.2L689.5 105.9L701.6 90.3Z" fill="#000" stroke="#000" stroke-width="1"/>
<!-- legend -->
<rect x="499.3" y="323.3" width="239" height="171.9" fill="#fff" stroke="#858585" stroke-width="1.1"/>
<text x="544.7" y="349.9" style="font-weight:bold;font-size:19.5px;fill:#000">Legend</text>
<text class="lg" transform="translate(508.7 385.6) scale(1.088 1)">MinimumTemperature (oC)</text>
<g stroke="#6e6e6e" stroke-width="1">
<rect x="508.2" y="400" width="46.2" height="13.7" fill="#4575b5"/>
<rect x="508.2" y="424.3" width="46.2" height="13.7" fill="#c0ccbe"/>
<rect x="508.2" y="448.6" width="46.2" height="13.7" fill="#fab984"/>
<rect x="508.2" y="472.9" width="46.2" height="13.7" fill="#d62f27"/>
</g>
<text class="lg" transform="translate(561.8 409.8) scale(1.098 1)">21.48 - 21.90</text>
<text class="lg" transform="translate(561.8 434.2) scale(1.098 1)">21.90 - 22.25</text>
<text class="lg" transform="translate(561.8 458.5) scale(1.098 1)">22.25 - 22.68</text>
<text class="lg" transform="translate(561.8 482.9) scale(1.098 1)">22.68 - 23.40</text>
</svg>
</body>
</html>
